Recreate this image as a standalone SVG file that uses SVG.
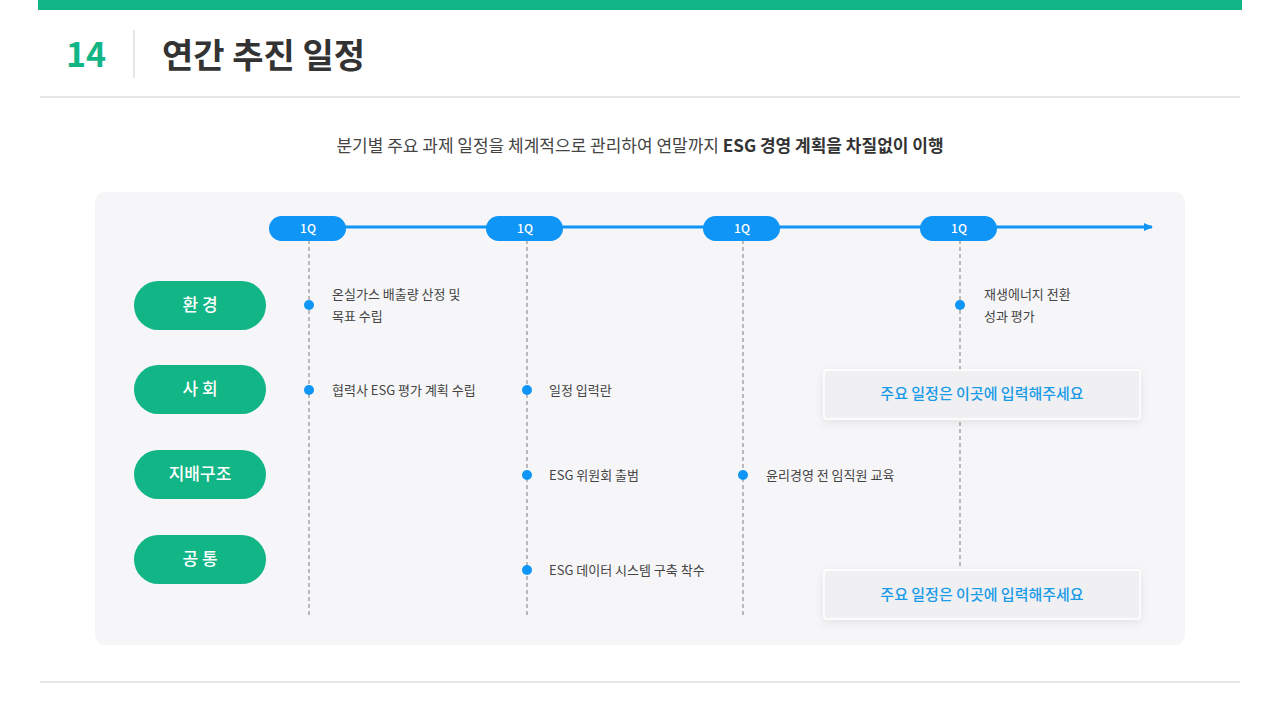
<svg xmlns="http://www.w3.org/2000/svg" width="1280" height="720" viewBox="0 0 1280 720">
<defs>
<style>
.k{font-family:"Noto Sans CJK KR","Noto Sans",sans-serif}
.cat{fill:#12b585}
.ct{font-size:17px;fill:#fff;font-weight:500;text-anchor:middle}
.q{fill:#0f95f5}
.qt{font-size:12px;fill:#fff;font-weight:500;text-anchor:middle}
.dl{stroke:#9a9a9a;stroke-width:1.3;stroke-dasharray:4 3}
.dot{fill:#0f95f5}
.it{font-size:13px;fill:#444}
.bx{fill:#f0f0f2;stroke:#fff;stroke-width:1.5}
.bt{font-size:15px;fill:#1a9be8;text-anchor:middle;font-weight:500}
</style>
<filter id="sh" x="-20%" y="-40%" width="140%" height="180%"><feDropShadow dx="0" dy="3" stdDeviation="5" flood-color="#000" flood-opacity="0.08"/></filter>
<marker id="ar" markerWidth="10" markerHeight="10" refX="8" refY="5" orient="auto" markerUnits="userSpaceOnUse"><path d="M0,1 L9,5 L0,9 Z" fill="#0f95f5"/></marker>
</defs>
<rect width="1280" height="720" fill="#fff"/>
<rect x="38" y="0" width="1204" height="10" fill="#12b585"/>
<text x="86" y="67" class="k" font-size="34" font-weight="700" fill="#12b585" text-anchor="middle">14</text>
<line x1="134" y1="30" x2="134" y2="78" stroke="#ccc"/>
<text x="162" y="68" class="k" font-size="34" font-weight="700" fill="#333">연간 추진 일정</text>
<line x1="40" y1="97" x2="1240" y2="97" stroke="#ccc"/>
<line x1="40" y1="682" x2="1240" y2="682" stroke="#ccc"/>
<text x="640" y="152" class="k" font-size="17" fill="#444" text-anchor="middle">분기별 주요 과제 일정을 체계적으로 관리하여 연말까지 <tspan font-weight="700" fill="#333">ESG 경영 계획을 차질없이 이행</tspan></text>
<rect x="95" y="192" width="1090" height="453" rx="10" fill="#f6f6f8"/>
<g id="connectors">
<line x1="300" y1="227" x2="1152" y2="227" stroke="#0f95f5" stroke-width="3" marker-end="url(#ar)"/>
<line class="dl" x1="309" y1="240" x2="309" y2="618"/>
<line class="dl" x1="527" y1="240" x2="527" y2="618"/>
<line class="dl" x1="743" y1="240" x2="743" y2="618"/>
<line class="dl" x1="960" y1="240" x2="960" y2="570"/>
</g>
<g id="quarters" class="k">
<rect class="q" x="269" y="216" width="77" height="25" rx="12.5"/><text class="qt" x="308" y="233">1Q</text>
<rect class="q" x="486" y="216" width="77" height="25" rx="12.5"/><text class="qt" x="525" y="233">1Q</text>
<rect class="q" x="703" y="216" width="77" height="25" rx="12.5"/><text class="qt" x="742" y="233">1Q</text>
<rect class="q" x="920" y="216" width="77" height="25" rx="12.5"/><text class="qt" x="959" y="233">1Q</text>
</g>
<g id="cat-env" class="k"><rect class="cat" x="134" y="281" width="132" height="49" rx="24.5"/><text class="ct" x="200" y="311">환   경</text></g>
<g id="cat-soc" class="k"><rect class="cat" x="134" y="365" width="132" height="49" rx="24.5"/><text class="ct" x="200" y="395">사   회</text></g>
<g id="cat-gov" class="k"><rect class="cat" x="134" y="450" width="132" height="49" rx="24.5"/><text class="ct" x="200" y="480">지배구조</text></g>
<g id="cat-com" class="k"><rect class="cat" x="134" y="535" width="132" height="49" rx="24.5"/><text class="ct" x="200" y="565">공   통</text></g>
<g id="items" class="k">
<circle class="dot" cx="309" cy="305" r="5"/><text class="it" x="332" y="299">온실가스 배출량 산정 및</text><text class="it" x="332" y="321">목표 수립</text>
<circle class="dot" cx="960" cy="305" r="5"/><text class="it" x="984" y="299">재생에너지 전환</text><text class="it" x="984" y="321">성과 평가</text>
<circle class="dot" cx="309" cy="390" r="5"/><text class="it" x="332" y="395">협력사 ESG 평가 계획 수립</text>
<circle class="dot" cx="527" cy="390" r="5"/><text class="it" x="549" y="395">일정 입력란</text>
<circle class="dot" cx="527" cy="475" r="5"/><text class="it" x="549" y="480">ESG 위원회 출범</text>
<circle class="dot" cx="743" cy="475" r="5"/><text class="it" x="766" y="480">윤리경영 전 임직원 교육</text>
<circle class="dot" cx="527" cy="570" r="5"/><text class="it" x="549" y="575">ESG 데이터 시스템 구축 착수</text>
</g>
<g id="box1" class="k"><rect class="bx" filter="url(#sh)" x="824" y="370" width="316" height="49" rx="3"/><text class="bt" x="982" y="399">주요 일정은 이곳에 입력해주세요</text></g>
<g id="box2" class="k"><rect class="bx" filter="url(#sh)" x="824" y="570" width="316" height="49" rx="3"/><text class="bt" x="982" y="600">주요 일정은 이곳에 입력해주세요</text></g>
</svg>
